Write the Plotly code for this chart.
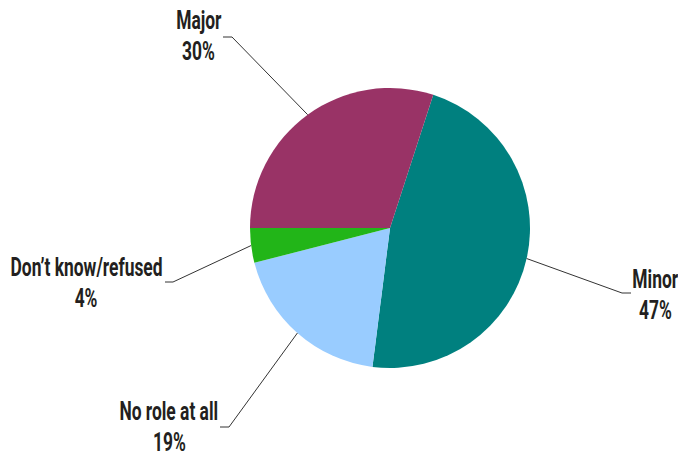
import math
import plotly.graph_objects as go

# Share of respondents by role
categories = ["Minor", "No role at all", "Don’t know/refused", "Major"]
shares = [47, 19, 4, 30]
colors = ["#00807F", "#99CCFF", "#22B518", "#993366"]

W, H = 678, 456
CX, CY, R = 390, 228, 140
ROTATION = 18

# label placement (pixels): text centre, elbow of leader line, end of leader line
label_layout = {
    "Minor": dict(text=(655, 294), elbow=(622, 293), end=(631, 293)),
    "No role at all": dict(text=(169, 426), elbow=(229, 427), end=(220, 427)),
    "Don’t know/refused": dict(text=(86, 282), elbow=(173, 282), end=(165, 282)),
    "Major": dict(text=(199, 36), elbow=(232, 37), end=(223, 37)),
}
LINE_PITCH = 31

FONT = "Roboto, Liberation Sans, sans-serif"


def px(x):
    return x / W


def py(y):
    return 1 - y / H


fig = go.Figure(
    go.Pie(
        labels=categories,
        values=shares,
        sort=False,
        direction="clockwise",
        rotation=ROTATION,
        marker=dict(colors=colors, line=dict(width=0)),
        textinfo="none",
        hoverinfo="label+percent",
        showlegend=False,
        domain=dict(x=[px(CX - R), px(CX + R)], y=[py(CY + R), py(CY - R)]),
    )
)

shapes = []
annotations = []
total = sum(shares)
cum = 0
for name, val in zip(categories, shares):
    mid = ROTATION + (cum + val / 2) / total * 360
    cum += val
    a = math.radians(mid)
    sx = CX + R * math.sin(a)
    sy = CY - R * math.cos(a)
    lay = label_layout[name]
    ex, ey = lay["elbow"]
    tx, ty = lay["end"]
    shapes.append(dict(type="path", xref="paper", yref="paper",
                       path=f"M {px(sx)},{py(sy)} L {px(ex)},{py(ey)} L {px(tx)},{py(ty)}",
                       line=dict(color="#333333", width=1)))
    cx_t, cy_t = lay["text"]
    lines = [name, f"{round(val / total * 100)}%"]
    for i, line in enumerate(lines):
        annotations.append(dict(
            x=px(cx_t), y=py(cy_t + (i - 0.5) * LINE_PITCH), xref="paper", yref="paper",
            text=f"<b>{line}</b>",
            showarrow=False, xanchor="center", yanchor="middle", align="center",
            font=dict(family=FONT, size=26, color="#231F20"),
        ))

fig.update_layout(
    width=W, height=H,
    margin=dict(l=0, r=0, t=0, b=0),
    paper_bgcolor="white",
    plot_bgcolor="white",
    shapes=shapes,
    annotations=annotations,
)

# condensed lettering: narrow each label horizontally around its own centre
condense_js = """
document.querySelectorAll('.annotation-text').forEach(function (t) {
  t.style.transformBox = 'fill-box';
  t.style.transformOrigin = 'center';
  t.style.transform = 'scaleX(0.67)';
});
"""

fig.write_html("out.html", post_script=condense_js)
